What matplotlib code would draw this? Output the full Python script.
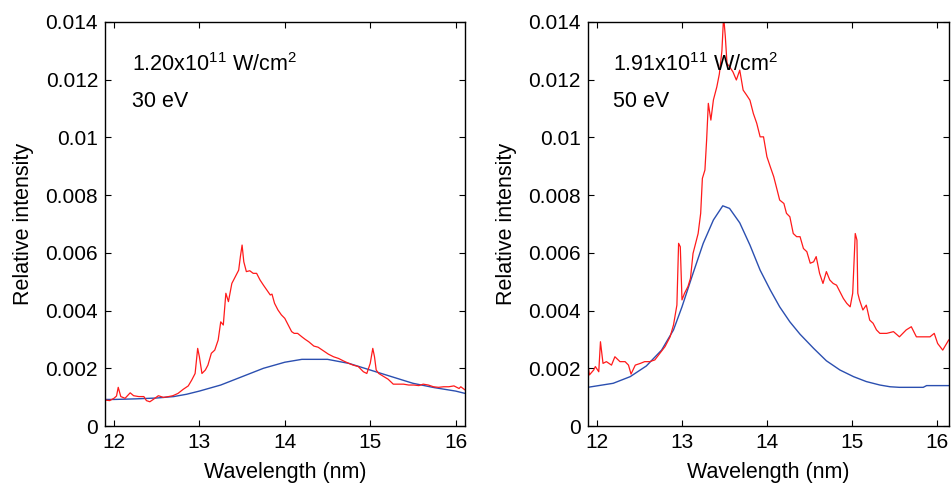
import matplotlib
matplotlib.use("Agg")
import matplotlib.pyplot as plt
from matplotlib.ticker import FuncFormatter

plt.rcParams['font.family'] = ['Liberation Sans', 'DejaVu Sans']
plt.rcParams['mathtext.default'] = 'regular'

# ---- Left panel (1.20e11 W/cm2, 30 eV) ----
left_red_wl = [11.89, 11.95, 12.0, 12.03, 12.05, 12.08, 12.13, 12.19, 12.23, 12.29, 12.35, 12.38,
               12.42, 12.46, 12.52, 12.58, 12.64, 12.69, 12.75, 12.81, 12.87, 12.91, 12.95, 12.98,
               13.0, 13.03, 13.07, 13.1, 13.14, 13.18, 13.22, 13.25, 13.28, 13.31, 13.34, 13.38,
               13.42, 13.46, 13.48, 13.5, 13.52, 13.55, 13.59, 13.63, 13.67, 13.71, 13.75, 13.79,
               13.83, 13.85, 13.88, 13.92, 13.96, 14.0, 14.04, 14.08, 14.11, 14.15, 14.2, 14.24,
               14.28, 14.34, 14.39, 14.45, 14.51, 14.57, 14.63, 14.69, 14.75, 14.8, 14.86, 14.92,
               14.96, 15.0, 15.03, 15.05, 15.07, 15.1, 15.16, 15.21, 15.27, 15.33, 15.39, 15.45,
               15.51, 15.57, 15.62, 15.68, 15.74, 15.8, 15.86, 15.92, 15.98, 16.04, 16.06, 16.11]
left_red_val = [0.90, 0.88, 0.96, 1.04, 1.34, 1.02, 0.96, 1.15, 1.05, 1.02, 1.02, 0.88,
                0.84, 0.92, 1.05, 0.99, 1.02, 1.05, 1.13, 1.27, 1.39, 1.59, 1.82, 2.69,
                2.40, 1.82, 1.94, 2.11, 2.52, 2.63, 2.98, 3.61, 3.50, 4.60, 4.31, 4.94,
                5.17, 5.40, 5.87, 6.27, 5.69, 5.35, 5.38, 5.29, 5.29, 5.06, 4.88, 4.71,
                4.54, 4.57, 4.25, 4.02, 3.85, 3.73, 3.50, 3.27, 3.21, 3.21, 3.09, 3.00,
                2.92, 2.77, 2.73, 2.61, 2.49, 2.40, 2.34, 2.25, 2.17, 2.11, 2.06, 1.88,
                1.82, 2.17, 2.69, 2.40, 1.94, 1.82, 1.71, 1.62, 1.45, 1.45, 1.45, 1.42,
                1.42, 1.40, 1.45, 1.42, 1.36, 1.34, 1.36, 1.36, 1.39, 1.30, 1.36, 1.25]
left_blue_wl = [11.89, 12.0, 12.25, 12.5, 12.7, 12.85, 13.0, 13.25, 13.5, 13.75, 14.0, 14.2,
                14.5, 14.75, 15.0, 15.25, 15.5, 15.75, 16.0, 16.11]
left_blue_val = [0.92, 0.92, 0.94, 0.97, 1.02, 1.10, 1.21, 1.42, 1.71, 2.00, 2.21, 2.31,
                 2.31, 2.17, 1.94, 1.71, 1.48, 1.33, 1.21, 1.13]

# ---- Right panel (1.91e11 W/cm2, 50 eV) ----
right_red_wl = [11.89, 11.91, 11.96, 11.98, 12.02, 12.04, 12.07, 12.11, 12.17, 12.21, 12.27, 12.33,
                12.37, 12.4, 12.45, 12.51, 12.56, 12.62, 12.68, 12.74, 12.8, 12.86, 12.9, 12.94,
                12.96, 12.98, 13.0, 13.03, 13.07, 13.1, 13.13, 13.17, 13.19, 13.22, 13.24, 13.27,
                13.29, 13.31, 13.34, 13.37, 13.41, 13.44, 13.47, 13.49, 13.51, 13.53, 13.56, 13.6,
                13.64, 13.68, 13.72, 13.76, 13.8, 13.84, 13.88, 13.92, 13.96, 14.0, 14.04, 14.08,
                14.12, 14.15, 14.2, 14.23, 14.27, 14.31, 14.35, 14.39, 14.43, 14.47, 14.51, 14.55,
                14.58, 14.62, 14.66, 14.7, 14.74, 14.78, 14.82, 14.86, 14.9, 14.94, 14.98, 15.01,
                15.04, 15.06, 15.07, 15.09, 15.13, 15.17, 15.21, 15.25, 15.29, 15.33, 15.41, 15.49,
                15.56, 15.64, 15.7, 15.76, 15.84, 15.92, 15.97, 16.01, 16.07, 16.14]
right_red_val = [2.17, 1.77, 1.94, 2.06, 1.88, 2.92, 2.17, 2.23, 2.11, 2.40, 2.23, 2.23,
                 2.11, 1.80, 2.11, 2.17, 2.23, 2.23, 2.29, 2.52, 2.75, 3.09, 3.50, 4.19,
                 6.33, 6.21, 4.37, 4.60, 4.83, 5.12, 5.98, 6.44, 6.67, 7.37, 8.58, 8.87,
                 9.91, 11.18, 10.60, 11.30, 11.75, 12.20, 13.00, 14.20, 13.50, 12.56, 12.45, 12.27,
                 11.99, 12.33, 11.64, 11.47, 11.29, 10.83, 10.49, 10.02, 10.02, 9.33, 8.98, 8.64,
                 8.18, 7.83, 7.71, 7.37, 7.25, 6.67, 6.56, 6.56, 6.15, 6.04, 5.64, 5.69,
                 5.87, 5.29, 4.94, 5.35, 5.06, 4.94, 4.88, 4.65, 4.42, 4.25, 4.13, 4.60,
                 6.67, 6.44, 4.60, 4.37, 4.02, 4.19, 3.67, 3.56, 3.33, 3.21, 3.21, 3.27,
                 3.09, 3.33, 3.44, 3.09, 3.09, 3.09, 3.21, 2.86, 2.63, 2.98]
right_blue_wl = [11.89, 12.19, 12.39, 12.58, 12.76, 12.9, 13.0, 13.13, 13.25, 13.37, 13.48, 13.56,
                 13.68, 13.8, 13.92, 14.04, 14.15, 14.27, 14.39, 14.55, 14.7, 14.86, 15.02, 15.17,
                 15.33, 15.45, 15.56, 15.84, 15.88, 16.14]
right_blue_val = [1.34, 1.48, 1.71, 2.08, 2.63, 3.33, 4.13, 5.29, 6.33, 7.14, 7.63, 7.54,
                  7.04, 6.27, 5.40, 4.71, 4.13, 3.61, 3.18, 2.69, 2.26, 1.94, 1.71, 1.54,
                  1.42, 1.36, 1.34, 1.34, 1.40, 1.40]

panels = [
    dict(rect=[0.1104, 0.118, 0.3786, 0.8365], xlim=(11.895, 16.11),
         red=(left_red_wl, left_red_val), blue=(left_blue_wl, left_blue_val),
         line1='1.20x10$^{11}$ W/cm$^{2}$', line2='30 eV', tx=0.075),
    dict(rect=[0.618, 0.118, 0.380, 0.8365], xlim=(11.89, 16.145),
         red=(right_red_wl, right_red_val), blue=(right_blue_wl, right_blue_val),
         line1='1.91x10$^{11}$ W/cm$^{2}$', line2='50 eV', tx=0.071),
]

fig = plt.figure(figsize=(9.51, 4.83), dpi=100)
fmt = FuncFormatter(lambda v, p: '%g' % round(v, 6))
for p in panels:
    ax = fig.add_axes(p['rect'])
    bw, bv = p['blue']
    rw, rv = p['red']
    ax.plot(bw, [v / 1000 for v in bv], color='#2b4fb0', lw=1.0)
    ax.plot(rw, [v / 1000 for v in rv], color='#ff1a1a', lw=0.9)
    ax.set_xlim(*p['xlim'])
    ax.set_ylim(0, 0.014)
    ax.set_xticks([12, 13, 14, 15, 16])
    ax.set_yticks([0, 0.002, 0.004, 0.006, 0.008, 0.010, 0.012, 0.014])
    ax.yaxis.set_major_formatter(fmt)
    ax.tick_params(direction='in', top=True, right=True, length=4, width=0.8,
                   labelsize=15, pad=5)
    for s in ax.spines.values():
        s.set_linewidth(1.0)
    ax.set_xlabel('Wavelength (nm)', fontsize=15.5, labelpad=7)
    ax.set_ylabel('Relative intensity', fontsize=15.5, labelpad=8)
    ax.text(p['tx'], 0.894, p['line1'], transform=ax.transAxes, fontsize=15.5,
            va='center', ha='left')
    ax.text(p['tx'], 0.802, p['line2'], transform=ax.transAxes, fontsize=15.5,
            va='center', ha='left')

fig.savefig('out.png', dpi=100)
